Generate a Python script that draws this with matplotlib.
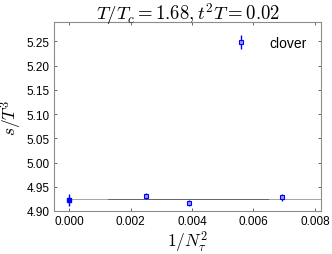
import matplotlib
matplotlib.use("Agg")
import matplotlib.pyplot as plt

plt.rcParams['mathtext.fontset'] = 'cm'
plt.rcParams['font.family'] = ['Liberation Sans', 'DejaVu Sans']

# data
inv_nt2 = [0.0, 0.00252, 0.0039, 0.00694]
s_T3 = [4.923, 4.931, 4.917, 4.928]
s_err = [0.012, 0.007, 0.006, 0.007]
fit_value = 4.924

fig = plt.figure(figsize=(3.32, 2.55), dpi=100)
ax = fig.add_axes([54/332, 1 - 212/255, (321-54)/332, (212-23)/255])

ax.axhline(fit_value, color='0.65', lw=0.7, xmin=(0 + 0.00049) / 0.00869)
ax.plot([0.00127, 0.00647], [fit_value, fit_value], color='0.4', lw=0.7)

ax.errorbar(inv_nt2[:1], s_T3[:1], yerr=s_err[:1], fmt='s', ms=3,
            color='blue', mfc='blue', elinewidth=1, capsize=0)
ax.errorbar(inv_nt2[1:], s_T3[1:], yerr=s_err[1:], fmt='s', ms=3,
            color='blue', mfc=(0.6, 0.6, 1.0), mew=0.8, elinewidth=1, capsize=0,
            label='clover')

ax.set_xlim(-0.00049, 0.0082)
ax.set_ylim(4.90, 5.29)
ax.set_xticks([0.0, 0.002, 0.004, 0.006, 0.008])
ax.set_xticklabels(['0.000', '0.002', '0.004', '0.006', '0.008'])
ax.set_yticks([4.90, 4.95, 5.00, 5.05, 5.10, 5.15, 5.20, 5.25])
ax.set_yticklabels(['4.90', '4.95', '5.00', '5.05', '5.10', '5.15', '5.20', '5.25'])
ax.tick_params(direction='in', length=2.5, width=0.6, color='0.3',
               labelsize=8.5, top=True, right=True, pad=3)
for sp in ax.spines.values():
    sp.set_color('0.55')
    sp.set_linewidth(0.8)

ax.set_xlabel(r'$1/N_\tau^2$', fontsize=12.5, labelpad=1)
ax.set_ylabel(r'$s/T^3$', fontsize=12.5, labelpad=2)
ax.set_title(r'$T/T_c = 1.68, t^2T = 0.02$', fontsize=13.5, pad=2)

ax.legend(loc='upper right', frameon=False, fontsize=10, handlelength=1.0,
          handletextpad=1.6, borderaxespad=0.6)

fig.savefig('out.png', dpi=100)
